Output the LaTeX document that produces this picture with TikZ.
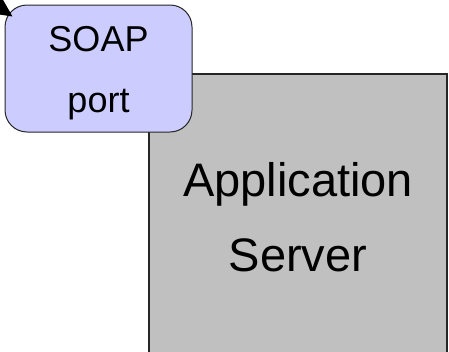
\documentclass[tikz,border=0pt]{standalone}
\usepackage{fontspec}
\setmainfont{Liberation Sans}
\usetikzlibrary{arrows.meta}
\definecolor{lav}{HTML}{CCCCFF}
\definecolor{srv}{HTML}{C0C0C0}
\begin{document}
\begin{tikzpicture}[x=1pt,y=1pt,
  portbox/.style={draw=black!85,line width=1pt,fill=lav,rounded corners=22pt,
    minimum width=187pt,minimum height=127pt,inner sep=0pt},
  porttext/.style={align=center,inner sep=0pt,yshift=-5pt,
    font=\fontsize{36}{61}\selectfont},
  serverbox/.style={draw=black!85,line width=1.2pt,fill=srv,
    minimum width=298pt,minimum height=286pt,inner sep=0pt,align=center,
    font=\fontsize{47}{75}\selectfont},
  link/.style={line width=1pt,-{Triangle[length=24pt,width=23pt]}}]
\useasboundingbox (0,0) rectangle (449,-351);
\node[serverbox] (server) at (298,-217) {Application\\Server};
\node[portbox,label={[porttext]center:{SOAP\\port}}] (soap) at (98.5,-68.5) {};
\coordinate (src) at (-45,23);
\coordinate (tip) at ([shift={(8pt,-12pt)}]soap.north west);
\draw[link] (src) -- (tip);
\end{tikzpicture}
\end{document}
